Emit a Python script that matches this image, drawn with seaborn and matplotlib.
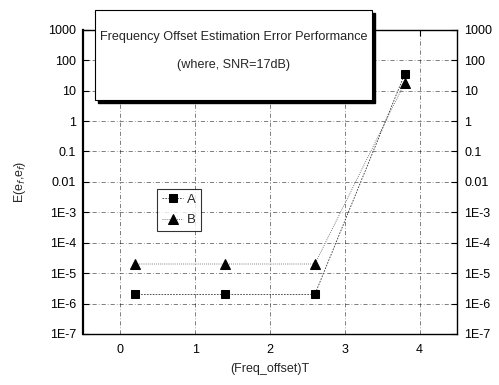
import numpy as np
import pandas as pd
import matplotlib
matplotlib.use("Agg")
import matplotlib.pyplot as plt
from matplotlib.patches import Rectangle
import seaborn as sns

# data
freq_offset = [0.2, 1.4, 2.6, 3.8]
series_a = [2e-6, 2e-6, 2e-6, 35]
series_b = [2e-5, 2e-5, 2e-5, 18]
ytick_vals = [1e-7, 1e-6, 1e-5, 1e-4, 1e-3, 1e-2, 1e-1, 1, 10, 100, 1000]
ytick_labels = ["1E-7", "1E-6", "1E-5", "1E-4", "1E-3", "0.01", "0.1", "1", "10", "100", "1000"]
xtick_vals = [0, 1, 2, 3, 4]

sns.set_theme(style="white")
plt.rcParams['font.family'] = ['Liberation Sans', 'DejaVu Sans']

df = pd.DataFrame({
    "x": freq_offset * 2,
    "y": series_a + series_b,
    "s": ["A"] * len(series_a) + ["B"] * len(series_b),
})

fig = plt.figure(figsize=(4.99, 3.85), dpi=100)
ax = fig.add_axes([0.166, 0.1325, 0.750, 0.790])

sns.lineplot(data=df[df.s == "A"], x="x", y="y", ax=ax, color="#333333",
             marker="s", markersize=5.5, linestyle=(0, (2, 1.5)), lw=0.6,
             label="A", markeredgecolor="black", markerfacecolor="black")
sns.lineplot(data=df[df.s == "B"], x="x", y="y", ax=ax, color="#555555",
             marker="^", markersize=6.5, linestyle=(0, (1, 1.5)), lw=0.6,
             label="B", markeredgecolor="black", markerfacecolor="black")

ax.set_yscale("log")
ax.set_ylim(1e-7, 1000)
ax.set_xlim(-0.5, 4.5)
ax.set_yticks(ytick_vals)
ax.set_yticklabels(ytick_labels)
ax.set_xticks(xtick_vals)
ax.set_xticklabels([str(v) for v in xtick_vals])
ax.minorticks_off()

ax.grid(True, which="major", color="black", lw=0.5, linestyle=(0, (6, 3, 1, 3)), alpha=0.7)
for sp in ax.spines.values():
    sp.set_color("black")
    sp.set_linewidth(1.0)
ax.spines["left"].set_linewidth(1.6)

ax.tick_params(axis="both", which="major", direction="in", length=4, width=0.8,
               labelsize=9, colors="black", pad=5)
ax.tick_params(axis="y", right=True, labelright=True, left=True)
ax.tick_params(axis="x", top=True, pad=7)

ax.set_xlabel("(Freq_offset)T", fontsize=9, labelpad=5)
ax.set_ylabel("E(e$_f$,e$_f$)", fontsize=9, labelpad=14)

leg = ax.legend(loc="upper left", bbox_to_anchor=(0.18, 0.50), frameon=True,
                fontsize=9.5, handlelength=1.6, handletextpad=0.3,
                borderpad=0.4, labelspacing=0.6, fancybox=False)
leg.get_frame().set_edgecolor("black")
leg.get_frame().set_linewidth(0.8)

# title box with shadow (figure coordinates)
bx0, bx1 = 95 / 499, 372 / 499
by0, by1 = 1 - 100 / 385, 1 - 10 / 385
fig.patches.append(Rectangle((bx0 + 3 / 499, by0 - 3 / 385), bx1 - bx0, by1 - by0,
                             transform=fig.transFigure, facecolor="black",
                             edgecolor="black", zorder=5))
fig.patches.append(Rectangle((bx0, by0), bx1 - bx0, by1 - by0,
                             transform=fig.transFigure, facecolor="white",
                             edgecolor="black", lw=0.8, zorder=6))
fig.text((bx0 + bx1) / 2, 1 - 37 / 385, "Frequency Offset Estimation Error Performance",
         ha="center", va="center", fontsize=9.1, zorder=7)
fig.text((bx0 + bx1) / 2, 1 - 65 / 385, "(where, SNR=17dB)",
         ha="center", va="center", fontsize=9.1, zorder=7)

fig.savefig("out.png", dpi=100)
